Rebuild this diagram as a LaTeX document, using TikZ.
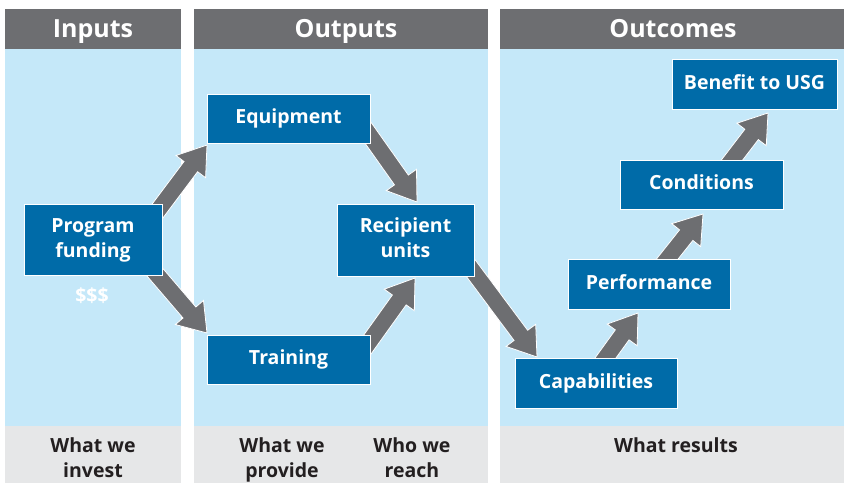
\documentclass[tikz,border=0pt]{standalone}
\usepackage{fontspec}
\setmainfont{Open Sans}
\usetikzlibrary{calc}
\definecolor{headgray}{HTML}{6D6E71}
\definecolor{panelblue}{HTML}{C5E8F9}
\definecolor{footgray}{HTML}{E6E7E8}
\definecolor{boxblue}{HTML}{006BA8}
\definecolor{arrowgray}{HTML}{6D6E71}
\definecolor{darktext}{HTML}{231F20}
\newcommand\blockarrow[2]{%
  \coordinate (bh) at ($(#2)!27pt!(#1)$);
  \fill[arrowfill] ($(#1)!8.5pt!90:(#2)$) -- ($(bh)!8.5pt!90:(#2)$) -- ($(bh)!18.5pt!90:(#2)$) -- (#2) -- ($(bh)!18.5pt!-90:(#2)$) -- ($(bh)!8.5pt!-90:(#2)$) -- ($(#1)!8.5pt!-90:(#2)$) -- cycle;}
\tikzset{
  arrowfill/.style={fill=arrowgray, draw=white, line width=0.8pt, line join=miter},
  headtext/.style={text=white, anchor=base, font=\fontsize{25}{30}\selectfont\bfseries},
  bluebox/.style={fill=boxblue, draw=white, line width=0.8pt, text=white, align=center, inner sep=0pt, font=\fontsize{19.5}{25}\selectfont\bfseries},
  foottext/.style={text=darktext, align=center, font=\fontsize{19.5}{25}\selectfont\bfseries},
}
\begin{document}
\begin{tikzpicture}[x=1pt, y=-1pt]
\useasboundingbox (0,0) rectangle (844,483);
% panels
\foreach \a/\b in {5/181, 194/488, 500/844}{
  \fill[headgray] (\a,9) rectangle (\b,49);
  \fill[panelblue] (\a,49) rectangle (\b,426);
  \fill[footgray] (\a,426) rectangle (\b,483);
}
\node[headtext] (hin) at (93,37) {Inputs};
\node[headtext] (hout) at (346,37) {Outputs};
\node[headtext] (hres) at (673,37) {Outcomes};
% arrow ends
\coordinate (a1) at (141,233); \coordinate (t1) at (207,145);
\coordinate (a2) at (135,249); \coordinate (t2) at (207,333);
\coordinate (a3) at (359,120); \coordinate (t3) at (417,202);
\coordinate (a4) at (357,359); \coordinate (t4) at (415,278);
\coordinate (a5) at (455,247); \coordinate (t5) at (537,357);
\coordinate (a6) at (591,378); \coordinate (t6) at (638,313);
\coordinate (a7) at (653,277); \coordinate (t7) at (703,214);
\coordinate (a8) at (719,177); \coordinate (t8) at (768,113);
\blockarrow{a1}{t1}
\blockarrow{a2}{t2}
\blockarrow{a3}{t3}
\blockarrow{a4}{t4}
\blockarrow{a5}{t5}
\blockarrow{a6}{t6}
\blockarrow{a7}{t7}
\blockarrow{a8}{t8}
% boxes
\node[bluebox, minimum width=138pt, minimum height=71pt] (pf) at (93,240) {\strut Program\\\strut funding};
\node[bluebox, minimum width=163pt, minimum height=49pt] (equip) at (288.5,118.5) {\strut Equipment};
\node[bluebox, minimum width=137pt, minimum height=72pt] (recip) at (405.5,240) {\strut Recipient\\\strut units};
\node[bluebox, minimum width=163pt, minimum height=49pt] (train) at (288.5,359.5) {\strut Training};
\node[bluebox, minimum width=162pt, minimum height=50pt] (cap) at (596,383) {\strut Capabilities};
\node[bluebox, minimum width=162pt, minimum height=50pt] (perf) at (649,284) {\strut Performance};
\node[bluebox, minimum width=163pt, minimum height=49pt] (cond) at (701.5,184.5) {\strut Conditions};
\node[bluebox, minimum width=165pt, minimum height=50pt] (ben) at (754.5,84) {\strut Benefit to USG};
\node[text=white, font=\fontsize{19.5}{25}\selectfont\bfseries] (money) at (92,296) {\$\$\$};
% footers
\node[foottext] (f1) at (93,460) {\strut What we\\\strut invest};
\node[foottext] (f2) at (282,460) {\strut What we\\\strut provide};
\node[foottext] (f3) at (412,460) {\strut Who we\\\strut reach};
\node[foottext] (f4) at (676,447.5) {\strut What results};
\end{tikzpicture}
\end{document}
